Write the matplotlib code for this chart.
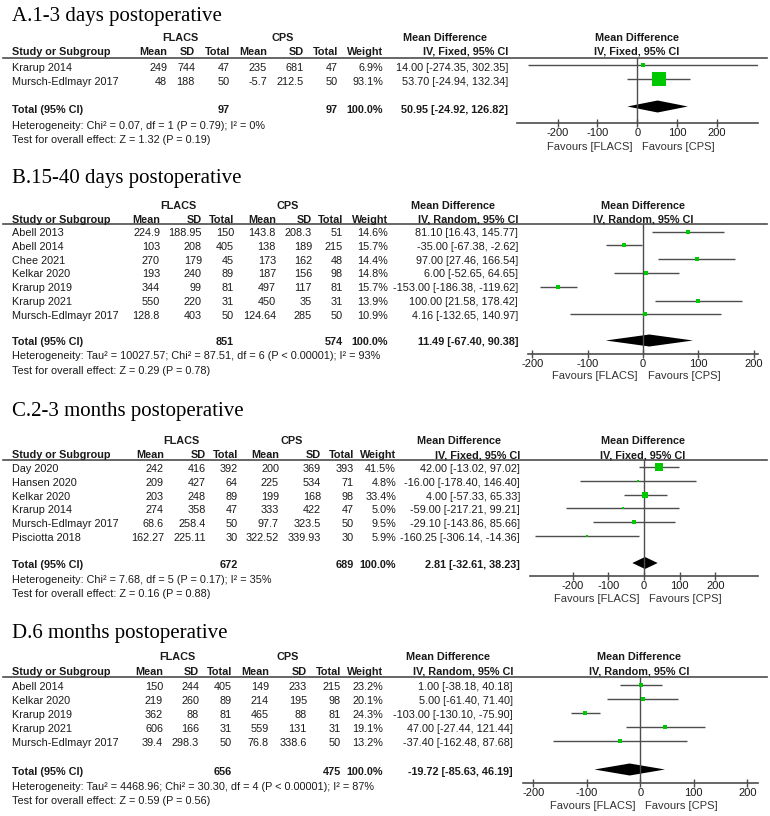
import numpy as np
import matplotlib.pyplot as plt

plt.rcParams["font.family"] = ["Liberation Sans", "DejaVu Sans"]
plt.rcParams["axes.unicode_minus"] = False

# ---- A. 1-3 days (fixed) ----
a_study = ["Krarup 2014", "Mursch-Edlmayr 2017"]
a_fl_mean = ["249", "48"]
a_fl_sd = ["744", "188"]
a_fl_n = ["47", "50"]
a_cp_mean = ["235", "-5.7"]
a_cp_sd = ["681", "212.5"]
a_cp_n = ["47", "50"]
a_weight = [6.9, 93.1]
a_md = [14.00, 53.70]
a_lo = [-274.35, -24.94]
a_hi = [302.35, 132.34]
a_total = ["97", "97"]
a_pooled = [50.95, -24.92, 126.82]
a_het = "Heterogeneity: Chi² = 0.07, df = 1 (P = 0.79); I² = 0%"
a_test = "Test for overall effect: Z = 1.32 (P = 0.19)"

# ---- B. 15-40 days (random) ----
b_study = ["Abell 2013", "Abell 2014", "Chee 2021", "Kelkar 2020",
           "Krarup 2019", "Krarup 2021", "Mursch-Edlmayr 2017"]
b_fl_mean = ["224.9", "103", "270", "193", "344", "550", "128.8"]
b_fl_sd = ["188.95", "208", "179", "240", "99", "220", "403"]
b_fl_n = ["150", "405", "45", "89", "81", "31", "50"]
b_cp_mean = ["143.8", "138", "173", "187", "497", "450", "124.64"]
b_cp_sd = ["208.3", "189", "162", "156", "117", "35", "285"]
b_cp_n = ["51", "215", "48", "98", "81", "31", "50"]
b_weight = [14.6, 15.7, 14.4, 14.8, 15.7, 13.9, 10.9]
b_md = [81.10, -35.00, 97.00, 6.00, -153.00, 100.00, 4.16]
b_lo = [16.43, -67.38, 27.46, -52.65, -186.38, 21.58, -132.65]
b_hi = [145.77, -2.62, 166.54, 64.65, -119.62, 178.42, 140.97]
b_total = ["851", "574"]
b_pooled = [11.49, -67.40, 90.38]
b_het = "Heterogeneity: Tau² = 10027.57; Chi² = 87.51, df = 6 (P < 0.00001); I² = 93%"
b_test = "Test for overall effect: Z = 0.29 (P = 0.78)"

# ---- C. 2-3 months (fixed) ----
c_study = ["Day 2020", "Hansen 2020", "Kelkar 2020", "Krarup 2014",
           "Mursch-Edlmayr 2017", "Pisciotta 2018"]
c_fl_mean = ["242", "209", "203", "274", "68.6", "162.27"]
c_fl_sd = ["416", "427", "248", "358", "258.4", "225.11"]
c_fl_n = ["392", "64", "89", "47", "50", "30"]
c_cp_mean = ["200", "225", "199", "333", "97.7", "322.52"]
c_cp_sd = ["369", "534", "168", "422", "323.5", "339.93"]
c_cp_n = ["393", "71", "98", "47", "50", "30"]
c_weight = [41.5, 4.8, 33.4, 5.0, 9.5, 5.9]
c_md = [42.00, -16.00, 4.00, -59.00, -29.10, -160.25]
c_lo = [-13.02, -178.40, -57.33, -217.21, -143.86, -306.14]
c_hi = [97.02, 146.40, 65.33, 99.21, 85.66, -14.36]
c_total = ["672", "689"]
c_pooled = [2.81, -32.61, 38.23]
c_het = "Heterogeneity: Chi² = 7.68, df = 5 (P = 0.17); I² = 35%"
c_test = "Test for overall effect: Z = 0.16 (P = 0.88)"

# ---- D. 6 months (random) ----
d_study = ["Abell 2014", "Kelkar 2020", "Krarup 2019", "Krarup 2021",
           "Mursch-Edlmayr 2017"]
d_fl_mean = ["150", "219", "362", "606", "39.4"]
d_fl_sd = ["244", "260", "88", "166", "298.3"]
d_fl_n = ["405", "89", "81", "31", "50"]
d_cp_mean = ["149", "214", "465", "559", "76.8"]
d_cp_sd = ["233", "195", "88", "131", "338.6"]
d_cp_n = ["215", "98", "81", "31", "50"]
d_weight = [23.2, 20.1, 24.3, 19.1, 13.2]
d_md = [1.00, 5.00, -103.00, 47.00, -37.40]
d_lo = [-38.18, -61.40, -130.10, -27.44, -162.48]
d_hi = [40.18, 71.40, -75.90, 121.44, 87.68]
d_total = ["656", "475"]
d_pooled = [-19.72, -85.63, 46.19]
d_het = "Heterogeneity: Tau² = 4468.96; Chi² = 30.30, df = 4 (P < 0.00001); I² = 87%"
d_test = "Test for overall effect: Z = 0.59 (P = 0.56)"

ticks = [-200, -100, 0, 100, 200]

panels = [
    dict(title="A.1-3 days postoperative", method="IV, Fixed, 95% CI",
         study=a_study, cols=[a_fl_mean, a_fl_sd, a_fl_n, a_cp_mean, a_cp_sd, a_cp_n],
         weight=a_weight, md=a_md, lo=a_lo, hi=a_hi, total=a_total, pooled=a_pooled,
         het=a_het, test=a_test,
         # layout in pixels
         title_y=21, grp_y=38, hdr_y=52, line_y=58, row0=68, dy=14, tot_y=110,
         het_y=126, test_y=140, colx=[167, 195, 230, 267, 304, 338, 383],
         md_x=508, fl_c=180, cp_c=283, md_c=445, plot_c=637,
         ax_l=517, ax_r=758, axis_y=123, xlim=(-302, 303), fav_y=147, k=1.55, off=3.5),
    dict(title="B.15-40 days postoperative", method="IV, Random, 95% CI",
         study=b_study, cols=[b_fl_mean, b_fl_sd, b_fl_n, b_cp_mean, b_cp_sd, b_cp_n],
         weight=b_weight, md=b_md, lo=b_lo, hi=b_hi, total=b_total, pooled=b_pooled,
         het=b_het, test=b_test,
         title_y=183, grp_y=206, hdr_y=220, line_y=224, row0=233, dy=13.8, tot_y=342,
         het_y=356, test_y=371, colx=[160, 202, 234, 276, 312, 343, 388],
         md_x=518, fl_c=178, cp_c=288, md_c=453, plot_c=643,
         ax_l=528, ax_r=758, axis_y=354, xlim=(-208, 208), fav_y=376, k=1.0, off=1.5),
    dict(title="C.2-3 months postoperative", method="IV, Fixed, 95% CI",
         study=c_study, cols=[c_fl_mean, c_fl_sd, c_fl_n, c_cp_mean, c_cp_sd, c_cp_n],
         weight=c_weight, md=c_md, lo=c_lo, hi=c_hi, total=c_total, pooled=c_pooled,
         het=c_het, test=c_test,
         title_y=416, grp_y=441, hdr_y=455, line_y=460, row0=469, dy=13.8, tot_y=565,
         het_y=580, test_y=594, colx=[164, 206, 238, 279, 321, 354, 396],
         md_x=520, fl_c=181, cp_c=292, md_c=459, plot_c=643,
         ax_l=530, ax_r=758, axis_y=576, xlim=(-319, 319), fav_y=599, k=1.09, off=2),
    dict(title="D.6 months postoperative", method="IV, Random, 95% CI",
         study=d_study, cols=[d_fl_mean, d_fl_sd, d_fl_n, d_cp_mean, d_cp_sd, d_cp_n],
         weight=d_weight, md=d_md, lo=d_lo, hi=d_hi, total=d_total, pooled=d_pooled,
         het=d_het, test=d_test,
         title_y=638, grp_y=657, hdr_y=672, line_y=677, row0=687, dy=14, tot_y=772,
         het_y=787, test_y=801, colx=[163, 199, 232, 269, 307, 341, 383],
         md_x=513, fl_c=177, cp_c=288, md_c=448, plot_c=639,
         ax_l=523, ax_r=758, axis_y=783, xlim=(-219, 220), fav_y=806, k=1.0, off=2.5),
]

W, H = 770, 816
txt = "#1a1a1a"
gray = "#4d4d4d"
green = "#00c800"
fs = 7.8

fig = plt.figure(figsize=(W / 100, H / 100), dpi=100)
base = fig.add_axes([0, 0, 1, 1])
base.set_xlim(0, W)
base.set_ylim(H, 0)
base.axis("off")

for p in panels:
    base.text(12, p["title_y"], p["title"], family="Liberation Serif", fontsize=15,
              color="black", va="baseline", ha="left")

    # group headers
    for lab, cx in [("FLACS", p["fl_c"]), ("CPS", p["cp_c"]),
                    ("Mean Difference", p["md_c"]), ("Mean Difference", p["plot_c"])]:
        base.text(cx, p["grp_y"], lab, ha="center", va="center", fontsize=fs,
                  fontweight="bold", color=txt)
    base.text(12, p["hdr_y"], "Study or Subgroup", ha="left", va="center", fontsize=fs,
              fontweight="bold", color=txt)
    for lab, cx in zip(["Mean", "SD", "Total", "Mean", "SD", "Total", "Weight"], p["colx"]):
        base.text(cx, p["hdr_y"], lab, ha="right", va="center", fontsize=fs,
                  fontweight="bold", color=txt)
    base.text(p["md_x"], p["hdr_y"], p["method"], ha="right", va="center", fontsize=fs,
              fontweight="bold", color=txt)
    base.text(p["plot_c"], p["hdr_y"], p["method"], ha="center", va="center", fontsize=fs,
              fontweight="bold", color=txt)
    base.plot([3, 767], [p["line_y"], p["line_y"]], color=gray, lw=1.2)

    # study rows
    n = len(p["study"])
    rows_y = [p["row0"] + i * p["dy"] for i in range(n)]
    for i, y in enumerate(rows_y):
        base.text(12, y, p["study"][i], ha="left", va="center", fontsize=fs, color=txt)
        for col, cx in zip(p["cols"], p["colx"][:6]):
            base.text(cx, y, col[i], ha="right", va="center", fontsize=fs, color=txt)
        base.text(p["colx"][6], y, f"{p['weight'][i]:.1f}%", ha="right", va="center",
                  fontsize=fs, color=txt)
        base.text(p["md_x"], y, f"{p['md'][i]:.2f} [{p['lo'][i]:.2f}, {p['hi'][i]:.2f}]",
                  ha="right", va="center", fontsize=fs, color=txt)

    # total row
    ty = p["tot_y"]
    base.text(12, ty, "Total (95% CI)", ha="left", va="center", fontsize=fs,
              fontweight="bold", color=txt)
    base.text(p["colx"][2], ty, p["total"][0], ha="right", va="center", fontsize=fs,
              fontweight="bold", color=txt)
    base.text(p["colx"][5], ty, p["total"][1], ha="right", va="center", fontsize=fs,
              fontweight="bold", color=txt)
    base.text(p["colx"][6], ty, "100.0%", ha="right", va="center", fontsize=fs,
              fontweight="bold", color=txt)
    pm, pl, ph = p["pooled"]
    base.text(p["md_x"], ty, f"{pm:.2f} [{pl:.2f}, {ph:.2f}]", ha="right", va="center",
              fontsize=fs, fontweight="bold", color=txt)
    base.text(12, p["het_y"], p["het"], ha="left", va="center", fontsize=fs, color=txt)
    base.text(12, p["test_y"], p["test"], ha="left", va="center", fontsize=fs, color=txt)

    # forest plot
    ax = fig.add_axes([p["ax_l"] / W, 1 - p["axis_y"] / H,
                       (p["ax_r"] - p["ax_l"]) / W, (p["axis_y"] - p["line_y"]) / H])
    ax.set_xlim(*p["xlim"])
    ax.set_ylim(p["axis_y"], p["line_y"])
    ax.patch.set_visible(False)
    for s in ["top", "left", "right"]:
        ax.spines[s].set_visible(False)
    ax.spines["bottom"].set_color(gray)
    ax.spines["bottom"].set_linewidth(1.2)
    ax.set_yticks([])
    ax.set_xticks(ticks)
    ax.tick_params(axis="x", direction="inout", length=6, width=1, color=gray,
                   labelcolor=txt, labelsize=8, pad=0.5)
    ax.axvline(0, color=gray, lw=1)

    fy = [y - p["off"] for y in rows_y]
    ax.hlines(fy, p["lo"], p["hi"], color=gray, lw=1)
    for x, y, w in zip(p["md"], fy, p["weight"]):
        size = max(p["k"] * np.sqrt(w), 2.2) * 0.72
        ax.plot(x, y, marker="s", ms=size, color=green, mec=green, mew=0)
    dy_ = ty - p["off"]
    ax.fill([pl, pm, ph, pm], [dy_, dy_ - 6, dy_, dy_ + 6], color="black", lw=0)

    ax.annotate("Favours [FLACS]", xy=(0, p["fav_y"]), xytext=(-5, 0),
                textcoords="offset pixels", ha="right", va="center", fontsize=8,
                color="#333333", annotation_clip=False)
    ax.annotate("Favours [CPS]", xy=(0, p["fav_y"]), xytext=(5, 0),
                textcoords="offset pixels", ha="left", va="center", fontsize=8,
                color="#333333", annotation_clip=False)

fig.savefig("out.png", dpi=100)
plt.close(fig)
